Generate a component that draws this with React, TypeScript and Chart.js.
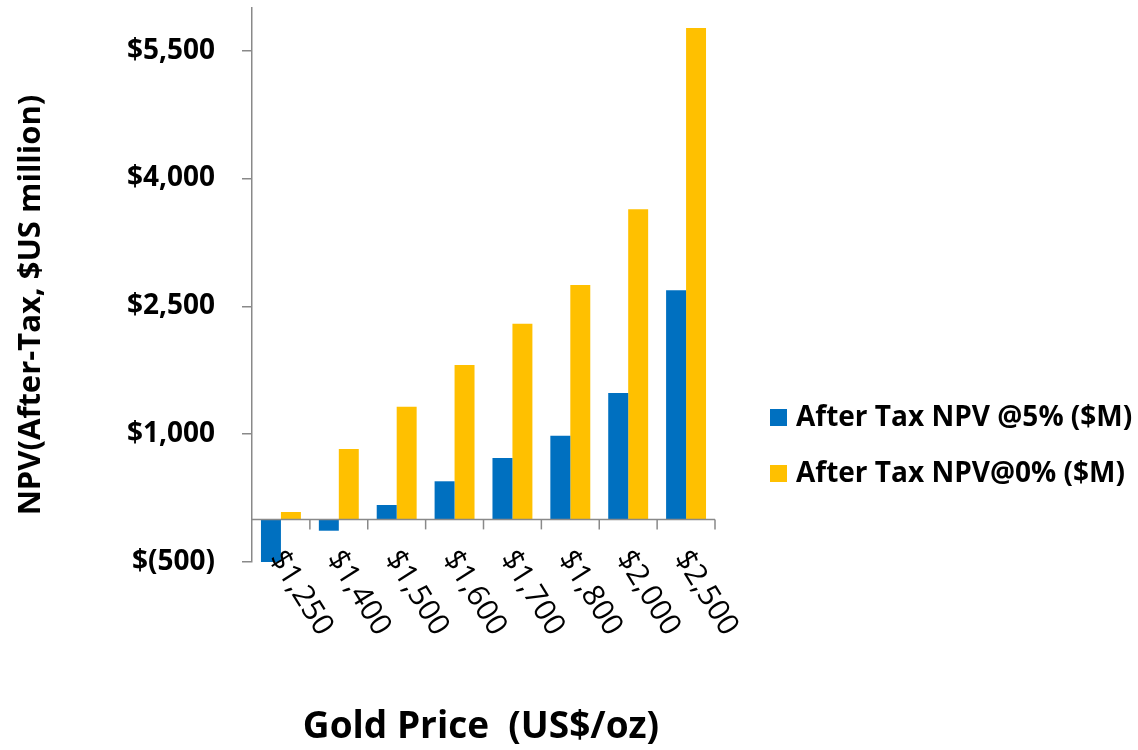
import React, { useEffect, useRef } from "react";
import { Chart, registerables } from "chart.js";

Chart.register(...registerables);

const categories = ["$1,250", "$1,400", "$1,500", "$1,600", "$1,700", "$1,800", "$2,000", "$2,500"];
const npv5 = [-530, -133, 169, 447, 720, 982, 1483, 2688];
const npv0 = [87, 826, 1322, 1812, 2296, 2750, 3638, 5766];
const seriesLabels = ["After Tax NPV @5% ($M)", "After Tax NPV@0% ($M)"];
const seriesColors = ["#0070C0", "#FFC000"];
const yTicks = [-500, 1000, 2500, 4000, 5500];
const yMin = -500;
const yMax = 6000;
const xTitle = "Gold Price  (US$/oz)";
const yTitle = "NPV(After-Tax, $US million)";

const FONT = "'Open Sans', 'DejaVu Sans', sans-serif";
const AXIS_GREY = "#898989";

function fmtMoney(v: number): string {
  const s = Math.abs(v).toLocaleString("en-US");
  return v < 0 ? `$(${s})` : `$${s}`;
}

const customPlugin = {
  id: "customDecor",
  afterDatasetsDraw(chart: any) {
    const ctx = chart.ctx;
    const { left, right } = chart.chartArea;
    const yScale = chart.scales.y;
    const xScale = chart.scales.x;
    const y0 = yScale.getPixelForValue(0);
    const n = chart.data.labels.length;
    ctx.save();
    // zero axis line
    ctx.strokeStyle = AXIS_GREY;
    ctx.lineWidth = 1.5;
    ctx.beginPath();
    ctx.moveTo(left, y0);
    ctx.lineTo(right, y0);
    ctx.stroke();
    // category boundary tick marks
    const w = (right - left) / n;
    for (let i = 1; i <= n; i++) {
      const x = left + i * w;
      ctx.beginPath();
      ctx.moveTo(x, y0);
      ctx.lineTo(x, y0 + 10);
      ctx.stroke();
    }
    // rotated category labels
    ctx.fillStyle = "#000";
    ctx.font = `500 30px ${FONT}`;
    ctx.textAlign = "left";
    ctx.textBaseline = "middle";
    const ang = (58 * Math.PI) / 180;
    chart.data.labels.forEach((lab: string, i: number) => {
      const x = xScale.getPixelForValue(i);
      ctx.save();
      ctx.translate(x - 5, y0 + 34);
      ctx.rotate(ang);
      ctx.fillText(lab, 0, 0);
      ctx.restore();
    });
    ctx.restore();
  },
  afterDraw(chart: any) {
    const ctx = chart.ctx;
    ctx.save();
    ctx.fillStyle = "#000";
    // x title
    ctx.font = `bold 37px ${FONT}`;
    ctx.textAlign = "center";
    ctx.textBaseline = "alphabetic";
    ctx.fillText(xTitle, 481, 738);
    // y title
    ctx.save();
    ctx.translate(31, 305);
    ctx.rotate(-Math.PI / 2);
    ctx.font = `bold 31px ${FONT}`;
    ctx.textAlign = "center";
    ctx.textBaseline = "middle";
    ctx.fillText(yTitle, 0, 0);
    ctx.restore();
    // legend
    const rows = [426, 482];
    chart.data.datasets.forEach((ds: any, i: number) => {
      const base = rows[i];
      ctx.fillStyle = ds.backgroundColor;
      ctx.fillRect(770, base - 17, 17, 17);
      ctx.fillStyle = "#000";
      ctx.font = `bold 28px ${FONT}`;
      ctx.textAlign = "left";
      ctx.textBaseline = "alphabetic";
      ctx.fillText(ds.label, 796, base);
    });
    ctx.restore();
  },
};

export default function App() {
  const ref = useRef<HTMLCanvasElement | null>(null);
  useEffect(() => {
    if (!ref.current) return;
    const chart = new Chart(ref.current, {
      type: "bar",
      data: {
        labels: categories,
        datasets: [
          { label: seriesLabels[0], data: npv5, backgroundColor: seriesColors[0], borderWidth: 0 },
          { label: seriesLabels[1], data: npv0, backgroundColor: seriesColors[1], borderWidth: 0 },
        ],
      },
      options: {
        responsive: false,
        animation: false,
        devicePixelRatio: 1,
        layout: { padding: { left: 0, top: 8, right: 423, bottom: 188 } },
        plugins: { legend: { display: false }, tooltip: { enabled: false } },
        datasets: { bar: { categoryPercentage: 0.69, barPercentage: 1.0 } },
        scales: {
          x: { display: false },
          y: {
            min: yMin,
            max: yMax,
            afterBuildTicks: (s: any) => {
              s.ticks = yTicks.map((v) => ({ value: v }));
            },
            afterFit: (s: any) => {
              s.width = 252;
              s.paddingTop = 0;
              s.paddingBottom = 0;
            },
            grid: { drawOnChartArea: false, drawTicks: true, tickLength: 10, color: AXIS_GREY, lineWidth: 1.5 },
            border: { display: true, color: AXIS_GREY, width: 1.5 },
            ticks: {
              padding: 27,
              color: "#000",
              font: { family: FONT, weight: "bold", size: 28 },
              callback: (v: any) => fmtMoney(Number(v)),
            },
          },
        },
      } as any,
      plugins: [customPlugin],
    });
    return () => chart.destroy();
  }, []);
  return (
    <div style={{ position: "fixed", left: 0, top: 0, width: 1138, height: 750, background: "#fff" }}>
      <canvas ref={ref} width={1138} height={750} style={{ width: 1138, height: 750, display: "block" }} />
    </div>
  );
}
